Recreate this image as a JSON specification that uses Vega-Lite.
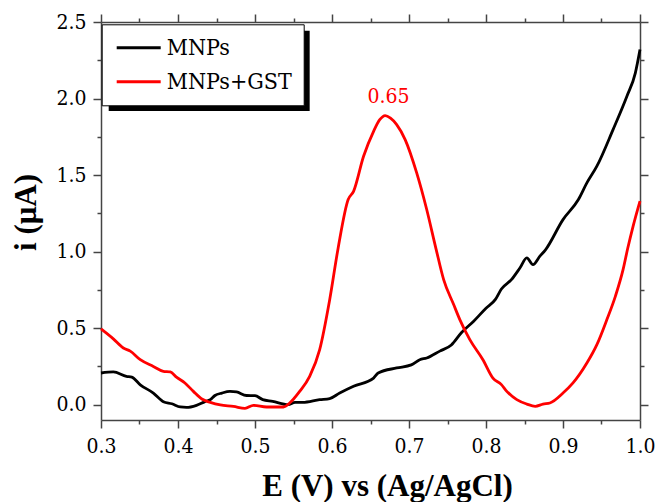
{
  "$schema": "https://vega.github.io/schema/vega-lite/v6.json",
  "width": 539,
  "height": 398,
  "autosize": {"type": "none"},
  "padding": {"left": 101, "top": 22, "right": 18, "bottom": 82},
  "background": "white",
  "config": {
    "view": {"stroke": null},
    "axis": {
      "domainColor": "#444444",
      "domainWidth": 1.5,
      "tickColor": "#444444",
      "tickWidth": 1.5,
      "labelFont": "DejaVu Serif Condensed",
      "labelFontSize": 21,
      "labelColor": "black",
      "labelPadding": 7,
      "labelFlush": false,
      "labelOverlap": false,
      "grid": false,
      "titleFont": "Liberation Serif",
      "titleFontSize": 31,
      "titleFontWeight": "bold",
      "titleColor": "black"
    }
  },
  "resolve": {"axis": {"x": "independent", "y": "independent"}},
  "layer": [
    {
      "data": {"values": [{}]},
      "mark": {"type": "rect", "color": "black"},
      "encoding": {
        "x": {"datum": 0.31, "type": "quantitative", "scale": {"domain": [0.3, 1.0], "nice": false, "zero": false}, "axis": null},
        "x2": {"datum": 0.571},
        "y": {"datum": 2.443, "type": "quantitative", "scale": {"domain": [-0.1, 2.5], "nice": false, "zero": false}, "axis": null},
        "y2": {"datum": 1.918}
      }
    },
    {
      "data": {"values": [
        {"E":0.300,"i":0.207,"series":"MNPs"},{"E":0.316,"i":0.214,"series":"MNPs"},{"E":0.333,"i":0.185,"series":"MNPs"},{"E":0.340,"i":0.180,"series":"MNPs"},{"E":0.351,"i":0.130,"series":"MNPs"},{"E":0.368,"i":0.076,"series":"MNPs"},{"E":0.381,"i":0.020,"series":"MNPs"},{"E":0.392,"i":0.006,"series":"MNPs"},{"E":0.403,"i":-0.015,"series":"MNPs"},{"E":0.411,"i":-0.018,"series":"MNPs"},{"E":0.424,"i":-0.004,"series":"MNPs"},{"E":0.435,"i":0.020,"series":"MNPs"},{"E":0.442,"i":0.033,"series":"MNPs"},{"E":0.448,"i":0.060,"series":"MNPs"},{"E":0.457,"i":0.076,"series":"MNPs"},{"E":0.4675,"i":0.087,"series":"MNPs"},{"E":0.476,"i":0.083,"series":"MNPs"},{"E":0.489,"i":0.060,"series":"MNPs"},{"E":0.500,"i":0.059,"series":"MNPs"},{"E":0.510,"i":0.033,"series":"MNPs"},{"E":0.523,"i":0.022,"series":"MNPs"},{"E":0.543,"i":0.000,"series":"MNPs"},{"E":0.552,"i":0.015,"series":"MNPs"},{"E":0.562,"i":0.015,"series":"MNPs"},{"E":0.584,"i":0.033,"series":"MNPs"},{"E":0.597,"i":0.040,"series":"MNPs"},{"E":0.610,"i":0.076,"series":"MNPs"},{"E":0.628,"i":0.120,"series":"MNPs"},{"E":0.654,"i":0.174,"series":"MNPs"},{"E":0.660,"i":0.207,"series":"MNPs"},{"E":0.684,"i":0.240,"series":"MNPs"},{"E":0.703,"i":0.260,"series":"MNPs"},{"E":0.714,"i":0.294,"series":"MNPs"},{"E":0.723,"i":0.305,"series":"MNPs"},{"E":0.740,"i":0.350,"series":"MNPs"},{"E":0.755,"i":0.390,"series":"MNPs"},{"E":0.768,"i":0.470,"series":"MNPs"},{"E":0.784,"i":0.545,"series":"MNPs"},{"E":0.800,"i":0.630,"series":"MNPs"},{"E":0.812,"i":0.686,"series":"MNPs"},{"E":0.820,"i":0.756,"series":"MNPs"},{"E":0.833,"i":0.817,"series":"MNPs"},{"E":0.844,"i":0.893,"series":"MNPs"},{"E":0.853,"i":0.959,"series":"MNPs"},{"E":0.861,"i":0.915,"series":"MNPs"},{"E":0.870,"i":0.970,"series":"MNPs"},{"E":0.877,"i":1.010,"series":"MNPs"},{"E":0.900,"i":1.209,"series":"MNPs"},{"E":0.920,"i":1.340,"series":"MNPs"},{"E":0.931,"i":1.449,"series":"MNPs"},{"E":0.944,"i":1.558,"series":"MNPs"},{"E":0.965,"i":1.797,"series":"MNPs"},{"E":0.983,"i":2.015,"series":"MNPs"},{"E":0.994,"i":2.168,"series":"MNPs"},{"E":1.000,"i":2.320,"series":"MNPs"},
        {"E":0.300,"i":0.495,"series":"MNPs+GST"},{"E":0.316,"i":0.430,"series":"MNPs+GST"},{"E":0.329,"i":0.370,"series":"MNPs+GST"},{"E":0.338,"i":0.350,"series":"MNPs+GST"},{"E":0.351,"i":0.294,"series":"MNPs+GST"},{"E":0.368,"i":0.250,"series":"MNPs+GST"},{"E":0.381,"i":0.218,"series":"MNPs+GST"},{"E":0.390,"i":0.214,"series":"MNPs+GST"},{"E":0.398,"i":0.180,"series":"MNPs+GST"},{"E":0.409,"i":0.142,"series":"MNPs+GST"},{"E":0.420,"i":0.087,"series":"MNPs+GST"},{"E":0.431,"i":0.037,"series":"MNPs+GST"},{"E":0.442,"i":0.015,"series":"MNPs+GST"},{"E":0.455,"i":-0.002,"series":"MNPs+GST"},{"E":0.472,"i":-0.011,"series":"MNPs+GST"},{"E":0.487,"i":-0.024,"series":"MNPs+GST"},{"E":0.498,"i":-0.004,"series":"MNPs+GST"},{"E":0.515,"i":-0.015,"series":"MNPs+GST"},{"E":0.537,"i":-0.015,"series":"MNPs+GST"},{"E":0.545,"i":0.011,"series":"MNPs+GST"},{"E":0.558,"i":0.087,"series":"MNPs+GST"},{"E":0.571,"i":0.185,"series":"MNPs+GST"},{"E":0.584,"i":0.360,"series":"MNPs+GST"},{"E":0.597,"i":0.686,"series":"MNPs+GST"},{"E":0.608,"i":1.024,"series":"MNPs+GST"},{"E":0.621,"i":1.340,"series":"MNPs+GST"},{"E":0.628,"i":1.394,"series":"MNPs+GST"},{"E":0.641,"i":1.623,"series":"MNPs+GST"},{"E":0.654,"i":1.786,"series":"MNPs+GST"},{"E":0.662,"i":1.862,"series":"MNPs+GST"},{"E":0.669,"i":1.889,"series":"MNPs+GST"},{"E":0.676,"i":1.872,"series":"MNPs+GST"},{"E":0.684,"i":1.830,"series":"MNPs+GST"},{"E":0.695,"i":1.732,"series":"MNPs+GST"},{"E":0.710,"i":1.514,"series":"MNPs+GST"},{"E":0.723,"i":1.275,"series":"MNPs+GST"},{"E":0.735,"i":1.020,"series":"MNPs+GST"},{"E":0.745,"i":0.817,"series":"MNPs+GST"},{"E":0.758,"i":0.654,"series":"MNPs+GST"},{"E":0.766,"i":0.556,"series":"MNPs+GST"},{"E":0.779,"i":0.425,"series":"MNPs+GST"},{"E":0.796,"i":0.294,"series":"MNPs+GST"},{"E":0.809,"i":0.174,"series":"MNPs+GST"},{"E":0.820,"i":0.131,"series":"MNPs+GST"},{"E":0.827,"i":0.087,"series":"MNPs+GST"},{"E":0.840,"i":0.033,"series":"MNPs+GST"},{"E":0.853,"i":0.004,"series":"MNPs+GST"},{"E":0.864,"i":-0.011,"series":"MNPs+GST"},{"E":0.874,"i":0.004,"series":"MNPs+GST"},{"E":0.883,"i":0.011,"series":"MNPs+GST"},{"E":0.900,"i":0.076,"series":"MNPs+GST"},{"E":0.913,"i":0.142,"series":"MNPs+GST"},{"E":0.931,"i":0.272,"series":"MNPs+GST"},{"E":0.944,"i":0.392,"series":"MNPs+GST"},{"E":0.957,"i":0.556,"series":"MNPs+GST"},{"E":0.968,"i":0.708,"series":"MNPs+GST"},{"E":0.978,"i":0.882,"series":"MNPs+GST"},{"E":0.984,"i":1.020,"series":"MNPs+GST"},{"E":0.991,"i":1.165,"series":"MNPs+GST"},{"E":1.000,"i":1.330,"series":"MNPs+GST"}
      ]},
      "mark": {"type": "line", "strokeWidth": 2.8, "interpolate": "monotone"},
      "encoding": {
        "x": {
          "field": "E", "type": "quantitative",
          "scale": {"domain": [0.3, 1.0], "nice": false, "zero": false},
          "axis": {
            "orient": "bottom",
            "values": [0.3,0.35,0.4,0.45,0.5,0.55,0.6,0.65,0.7,0.75,0.8,0.85,0.9,0.95,1.0],
            "labelExpr": "abs(datum.value*10 - round(datum.value*10)) < 0.001 ? format(datum.value, '.1f') : ''",
            "tickSize": {"condition": {"test": "abs(datum.value*10 - round(datum.value*10)) < 0.001", "value": 8}, "value": 4},
            "title": "E (V) vs (Ag/AgCl)",
            "titleX": 286, "titleY": 75, "titleAlign": "center", "titleBaseline": "alphabetic"
          }
        },
        "y": {
          "field": "i", "type": "quantitative",
          "scale": {"domain": [-0.1, 2.5], "nice": false, "zero": false},
          "axis": {
            "orient": "left",
            "values": [0,0.25,0.5,0.75,1,1.25,1.5,1.75,2,2.25,2.5],
            "labelExpr": "abs(datum.value*2 - round(datum.value*2)) < 0.001 ? format(datum.value, '.1f') : ''",
            "tickSize": {"condition": {"test": "abs(datum.value*2 - round(datum.value*2)) < 0.001", "value": 8}, "value": 4},
            "title": "i (μA)",
            "titleX": -66, "titleY": 190, "titleAngle": 270, "titleAlign": "center", "titleBaseline": "alphabetic"
          }
        },
        "color": {
          "field": "series", "type": "nominal",
          "scale": {"domain": ["MNPs", "MNPs+GST"], "range": ["#000000", "#ff0000"]},
          "legend": {
            "orient": "none", "legendX": 0.7, "legendY": 2.3, "title": null,
            "fillColor": "white", "strokeColor": "black", "padding": 11,
            "symbolType": "M-2,0H2", "symbolSize": 484, "symbolStrokeWidth": 3, "symbolOffset": 13.5,
            "labelFont": "DejaVu Serif Condensed", "labelFontSize": 23, "labelColor": "black",
            "labelOffset": 15.5, "rowPadding": 9
          }
        }
      }
    },
    {
      "data": {"values": [{"E": 0.6734, "i": 1.972, "label": "0.65"}]},
      "mark": {"type": "text", "color": "#ff0000", "font": "DejaVu Serif Condensed", "fontSize": 21, "align": "center", "baseline": "alphabetic"},
      "encoding": {
        "x": {
          "field": "E", "type": "quantitative",
          "scale": {"domain": [0.3, 1.0], "nice": false, "zero": false},
          "axis": {
            "orient": "top", "labels": false, "title": null,
            "values": [0.3,0.35,0.4,0.45,0.5,0.55,0.6,0.65,0.7,0.75,0.8,0.85,0.9,0.95,1.0],
            "tickSize": {"condition": {"test": "abs(datum.value*10 - round(datum.value*10)) < 0.001", "value": 8}, "value": 4}
          }
        },
        "y": {
          "field": "i", "type": "quantitative",
          "scale": {"domain": [-0.1, 2.5], "nice": false, "zero": false},
          "axis": {
            "orient": "right", "labels": false, "title": null,
            "values": [0,0.25,0.5,0.75,1,1.25,1.5,1.75,2,2.25,2.5],
            "tickSize": {"condition": {"test": "abs(datum.value*2 - round(datum.value*2)) < 0.001", "value": 8}, "value": 4}
          }
        },
        "text": {"field": "label"}
      }
    }
  ]
}
